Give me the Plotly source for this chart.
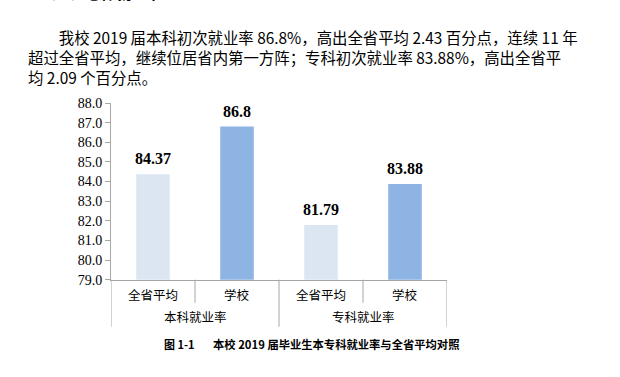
import plotly.graph_objects as go

W, H = 620, 377

# ---- data ----
groups = ["本科就业率", "专科就业率"]
subcats = ["全省平均", "学校", "全省平均", "学校"]
values = [84.37, 86.8, 81.79, 83.88]
value_labels = ["84.37", "86.8", "81.79", "83.88"]
ytick_vals = [79, 80, 81, 82, 83, 84, 85, 86, 87, 88]
y_range = [79, 88]

para_lines = [
    "\u3000\u3000我校 2019 届本科初次就业率 86.8%，高出全省平均 2.43 百分点，连续 11 年",
    "超过全省平均，继续位居省内第一方阵；专科初次就业率 83.88%，高出全省平",
    "均 2.09 个百分点。",
]
heading = "（一）总体就业率"
caption_num = "图 1-1"
caption_text = "本校 2019 届毕业生本专科就业率与全省平均对照"

# ---- style ----
light = "#DCE6F2"
blue = "#8DB4E2"
bar_colors = [light, blue, light, blue]
gray = "#A6A6A6"
serif = "Liberation Serif, Times New Roman, serif"
cjk = "Noto Sans CJK SC, sans-serif"


def px(x):
    return x / W


def py(y):
    return 1 - y / H


x0, x1 = 111, 447
y_top, y_bot = 100, 284

fig = go.Figure()
fig.add_trace(go.Bar(
    x=list(range(len(values))), y=values,
    marker=dict(color=bar_colors, line=dict(width=0)),
    width=0.40, hoverinfo="skip",
))

annotations = []
# data labels
for i, (v, t) in enumerate(zip(values, value_labels)):
    annotations.append(dict(
        x=i, y=v, xref="x", yref="y", text=f"<b>{t}</b>", showarrow=False,
        yanchor="bottom", yshift=6, borderpad=0,
        font=dict(family=serif, size=16, color="#000000"),
    ))
# sub-category labels
for i, s in enumerate(subcats):
    annotations.append(dict(
        x=i, y=py(299), xref="x", yref="paper", text=s, showarrow=False,
        yanchor="middle", font=dict(family=cjk, size=12.5, color="#000000"),
    ))
# group labels
for g_i, g in enumerate(groups):
    annotations.append(dict(
        x=g_i * 2 + 0.5, y=py(322), xref="x", yref="paper", text=g, showarrow=False,
        yanchor="middle", font=dict(family=cjk, size=12.5, color="#000000"),
    ))
# paragraph (one block, line spacing 1.3em)
annotations.append(dict(
    x=px(27), y=py(52), xref="paper", yref="paper", text="<br>".join(para_lines),
    showarrow=False, xanchor="left", yanchor="middle", align="left", borderpad=0,
    font=dict(family=cjk, size=15.4, color="#000000"),
))
# cut-off heading at very top (only its lower edge is visible)
annotations.append(dict(
    x=px(40), y=py(-3), xref="paper", yref="paper", text=f"<b>{heading}</b>",
    showarrow=False, xanchor="left", yanchor="bottom", borderpad=0,
    font=dict(family=cjk, size=15, color="#000000"),
))
# caption
annotations.append(dict(
    x=px(163), y=py(351), xref="paper", yref="paper", text=caption_num, showarrow=False,
    xanchor="left", yanchor="middle", borderpad=0,
    font=dict(family=cjk, size=11, color="#000000", weight=600),
))
annotations.append(dict(
    x=px(212), y=py(351), xref="paper", yref="paper", text=caption_text, showarrow=False,
    xanchor="left", yanchor="middle", borderpad=0,
    font=dict(family=cjk, size=11.3, color="#000000", weight=600),
))

shapes = []
# inner dividers (first label row)
for xb in [0.5, 2.5]:
    shapes.append(dict(type="line", xref="x", yref="paper", x0=xb, x1=xb,
                       y0=py(y_bot), y1=py(308), line=dict(color=gray, width=1)))
# group dividers (both rows)
for xb in [-0.5, 1.5, 3.5]:
    shapes.append(dict(type="line", xref="x", yref="paper", x0=xb, x1=xb,
                       y0=py(y_bot), y1=py(333), line=dict(color=gray, width=1)))

fig.update_layout(
    width=W, height=H,
    margin=dict(l=0, r=0, t=0, b=0),
    paper_bgcolor="white", plot_bgcolor="white",
    showlegend=False,
    annotations=annotations, shapes=shapes,
    xaxis=dict(domain=[px(x0), px(x1)], range=[-0.5, 3.5], showgrid=False,
               zeroline=False, showticklabels=False, ticks="",
               showline=True, linecolor=gray, linewidth=1, fixedrange=True),
    yaxis=dict(domain=[py(y_bot), py(y_top)], range=y_range, showgrid=False,
               zeroline=False, tickvals=ytick_vals,
               ticktext=[f"{v:.1f}" for v in ytick_vals],
               ticks="outside", ticklen=5, tickcolor=gray, tickwidth=1,
               showline=True, linecolor=gray, linewidth=1,
               tickfont=dict(family=serif, size=14, color="#000000"),
               fixedrange=True),
)

fig.write_html(
    "out.html",
    config={"displayModeBar": False},
    post_script="document.body.style.margin='0';document.body.style.overflow='hidden';",
)
